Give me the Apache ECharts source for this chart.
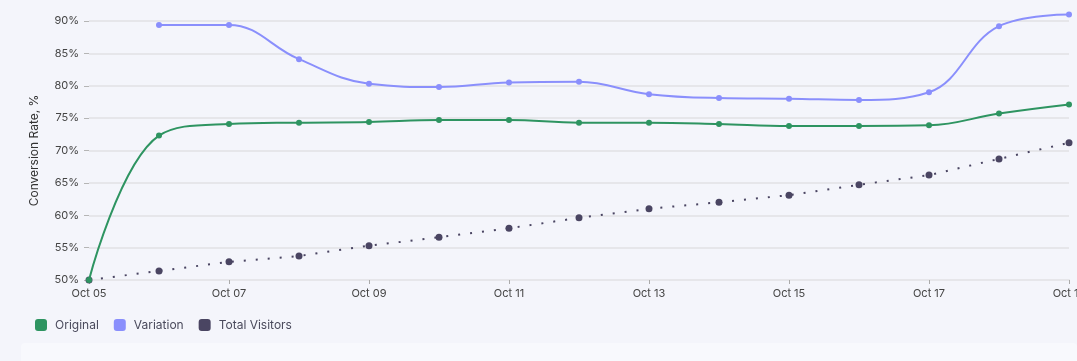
<!DOCTYPE html>
<html>
<head>
<meta charset="utf-8">
<script src="https://cdn.jsdelivr.net/npm/echarts@6/dist/echarts.min.js"></script>
<style>
html,body{margin:0;padding:0;background:#f4f5fb;}
#chart{position:absolute;left:0;top:0;width:1077px;height:361px;}
#panel{position:absolute;left:21px;top:343px;width:1056px;height:30px;background:#f8f9fd;border-radius:4px;}
</style>
</head>
<body>
<div id="panel"></div>
<div id="chart"></div>
<script>
const categories = ['Oct 05','Oct 06','Oct 07','Oct 08','Oct 09','Oct 10','Oct 11','Oct 12','Oct 13','Oct 14','Oct 15','Oct 16','Oct 17','Oct 18','Oct 19'];
const originalValues = [50, 72.3, 74.1, 74.3, 74.4, 74.7, 74.7, 74.3, 74.3, 74.1, 73.8, 73.8, 73.9, 75.7, 77.1];
const variationValues = [null, 89.4, 89.4, 84.1, 80.3, 79.8, 80.5, 80.6, 78.7, 78.1, 78.0, 77.8, 79.0, 89.2, 91.0];
const totalVisitorsValues = [50, 51.4, 52.8, 53.7, 55.3, 56.6, 58.0, 59.6, 61.0, 62.0, 63.1, 64.7, 66.2, 68.7, 71.2];
const yTicks = [50, 55, 60, 65, 70, 75, 80, 85, 90];

const chart = echarts.init(document.getElementById('chart'), null, {renderer:'canvas'});
const font = 'Inter, "Noto Sans", sans-serif';
chart.setOption({
  backgroundColor: 'transparent',
  animation: false,
  textStyle: {fontFamily: font},
  grid: {left: 89, right: 8, top: 21, bottom: 81, containLabel: false, outerBoundsMode: 'none'},
  legend: {
    left: 30, top: 314,
    itemWidth: 12, itemHeight: 12, itemGap: 15,
    icon: 'roundRect',
    textStyle: {color: '#4a4a5c', fontSize: 12, fontFamily: font, padding: [0, 0, 0, 3]},
    data: ['Original', 'Variation', 'Total Visitors']
  },
  xAxis: {
    type: 'category',
    data: categories,
    boundaryGap: false,
    axisLine: {show: true, lineStyle: {color: '#e6e6ea', width: 2}},
    axisTick: {show: true, alignWithLabel: true, interval: 1, length: 4, lineStyle: {color: '#aaaaaa'}},
    axisLabel: {interval: 1, color: '#444', fontSize: 11, margin: 8, fontFamily: font, hideOverlap: false},
    splitLine: {show: false}
  },
  yAxis: {
    type: 'value',
    min: yTicks[0], max: yTicks[yTicks.length-1], interval: 5,
    name: 'Conversion Rate, %',
    nameLocation: 'middle',
    nameGap: 49,
    nameTextStyle: {color: '#333', fontSize: 12, fontFamily: font},
    axisLine: {show: false},
    axisTick: {show: true, length: 5, lineStyle: {color: '#b5b5b5'}},
    axisLabel: {formatter: '{value}%', color: '#444', fontSize: 11, margin: 10, fontFamily: font},
    splitLine: {lineStyle: {color: '#e6e6ea', width: 2}}
  },
  series: [
    {
      name: 'Original', type: 'line', data: originalValues, smooth: 0.4, clip: false,
      symbol: 'circle', symbolSize: 6, showSymbol: true,
      itemStyle: {color: '#2e9461'},
      lineStyle: {color: '#2e9461', width: 2}, z: 3
    },
    {
      name: 'Variation', type: 'line', data: variationValues, smooth: 0.4, clip: false,
      symbol: 'circle', symbolSize: 6, showSymbol: true,
      itemStyle: {color: '#8a8ffc'},
      lineStyle: {color: '#8a8ffc', width: 2}, z: 2
    },
    {
      name: 'Total Visitors', type: 'line', data: totalVisitorsValues, smooth: false, clip: false,
      symbol: 'circle', symbolSize: 7, showSymbol: true,
      itemStyle: {color: '#4a4562'},
      lineStyle: {color: '#4a4562', width: 2, type: [2, 10]}, z: 1
    }
  ]
});
</script>
</body>
</html>
